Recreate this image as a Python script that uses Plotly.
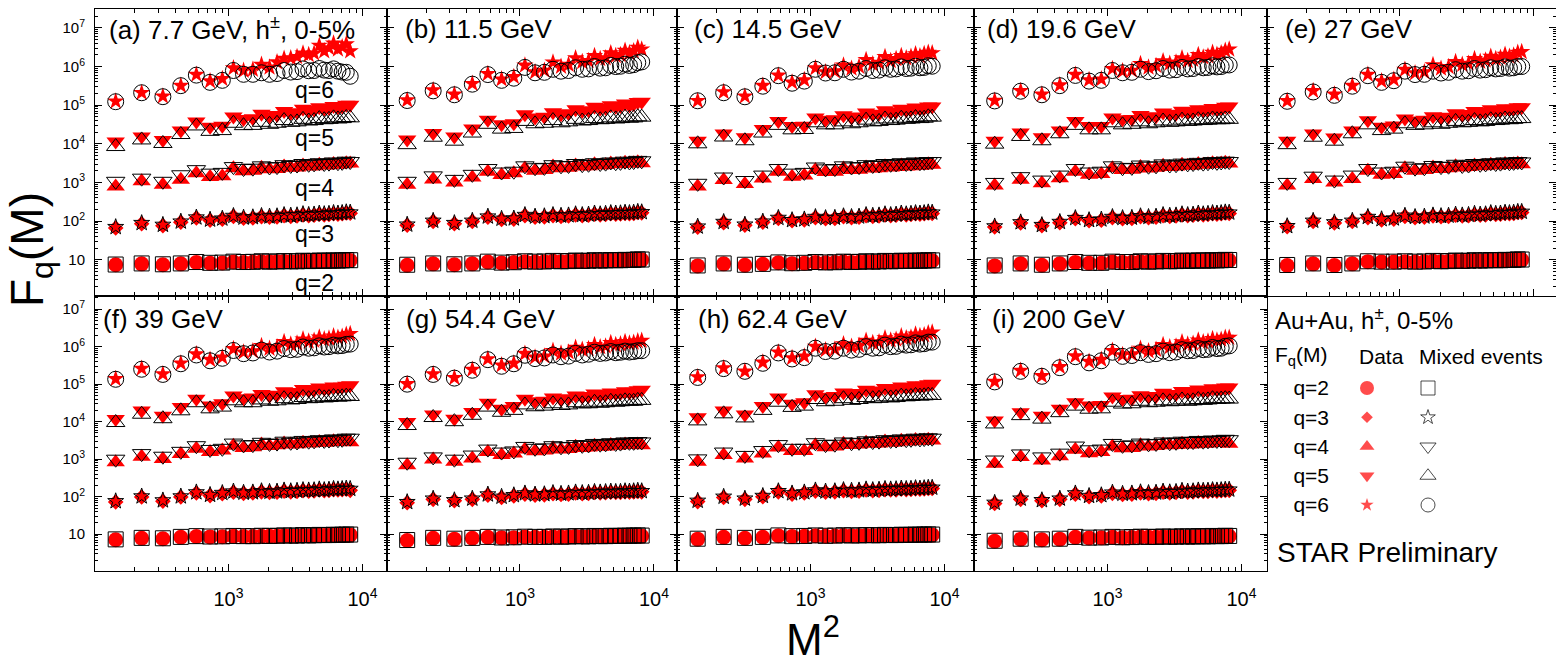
import plotly.graph_objects as go

W, H = 1556, 663
FONT = "Liberation Sans, Arial, Helvetica, sans-serif"

# ---------------- data ----------------
M2 = [144, 225, 324, 441, 576, 729, 900, 1089, 1296, 1521, 1764, 2025, 2304, 2601, 2916,
      3249, 3600, 3969, 4356, 4761, 5184, 5625, 6084, 6561, 7056, 7569, 8100]

# (a) 7.7 GeV
A_Q2_DATA = [7.4, 7.8, 7.4, 7.8, 8.5, 8.1, 8.2, 8.7, 8.5, 8.6, 8.9, 8.7, 8.8, 9.0, 8.9, 8.9, 9.2, 9.0, 9.1, 9.3, 9.2, 9.2, 9.4, 9.3, 9.4, 9.6, 9.5]
A_Q2_MIX = [7.5, 8.0, 7.6, 8.0, 8.7, 8.3, 8.4, 8.9, 8.7, 8.8, 9.1, 8.9, 9.0, 9.2, 9.1, 9.1, 9.4, 9.2, 9.3, 9.5, 9.4, 9.4, 9.6, 9.5, 9.6, 9.8, 9.7]
A_Q3_DATA = [66, 85, 76, 93, 120, 105, 112, 132, 118, 120, 130, 125, 128, 138, 132, 135, 145, 138, 141, 150, 145, 148, 155, 150, 155, 162, 160]
A_Q3_MIX = [70, 89, 80, 97, 124, 109, 116, 136, 123, 126, 136, 131, 134, 144, 139, 142, 152, 145, 149, 157, 152, 155, 163, 158, 163, 170, 167]
A_Q4_DATA = [790, 1070, 870, 1170, 1740, 1380, 1450, 2340, 1950, 2000, 2400, 2190, 2240, 2570, 2400, 2450, 2750, 2570, 2630, 2880, 2750, 2800, 3020, 2880, 2950, 3160, 3090]
A_Q4_MIX = [1070, 1290, 1070, 1580, 2140, 1740, 1820, 2570, 2290, 2340, 2690, 2510, 2570, 2880, 2750, 2820, 3090, 2950, 3020, 3240, 3090, 3160, 3390, 3240, 3310, 3550, 3470]
A_Q5_DATA = [1.15e4, 1.55e4, 1.26e4, 2.2e4, 3.8e4, 2.75e4, 2.95e4, 5.1e4, 4.4e4, 4.6e4, 6.0e4, 5.2e4, 5.6e4, 7.1e4, 6.3e4, 6.6e4, 8.1e4, 7.2e4, 7.6e4, 8.9e4, 8.1e4, 8.5e4, 9.5e4, 8.9e4, 9.3e4, 1.02e5, 1.02e5]
A_Q5_MIX = [8.5e3, 1.26e4, 1.02e4, 1.74e4, 2.9e4, 2.1e4, 2.2e4, 3.4e4, 2.95e4, 3.0e4, 3.6e4, 3.2e4, 3.4e4, 4.0e4, 3.6e4, 3.7e4, 4.3e4, 3.9e4, 4.0e4, 4.5e4, 4.2e4, 4.3e4, 4.7e4, 4.4e4, 4.5e4, 4.8e4, 4.7e4]
A_Q6_DATA = [1.26e5, 2.1e5, 1.7e5, 3.2e5, 6.2e5, 4.2e5, 4.8e5, 9.1e5, 7.8e5, 8.3e5, 1.12e6, 9.5e5, 1.3e6, 1.6e6, 1.66e6, 1.78e6, 2.2e6, 2.0e6, 2.2e6, 3.5e6, 2.5e6, 3.0e6, 4.0e6, 2.8e6, 3.2e6, 3.8e6, 2.5e6]
A_Q6_MIX = [1.23e5, 2.1e5, 1.66e5, 3.2e5, 6.0e5, 3.9e5, 4.4e5, 7.9e5, 6.3e5, 6.3e5, 6.9e5, 6.3e5, 6.6e5, 7.9e5, 7.2e5, 7.4e5, 8.7e5, 7.8e5, 7.9e5, 8.9e5, 8.1e5, 7.9e5, 8.7e5, 7.6e5, 7.2e5, 7.1e5, 5.6e5]

# (b) 11.5 GeV
B_Q2_DATA = [7.2, 7.8, 7.4, 7.8, 8.7, 8.2, 8.4, 8.9, 8.7, 8.8, 9.1, 8.9, 9.0, 9.3, 9.1, 9.2, 9.5, 9.3, 9.4, 9.6, 9.5, 9.5, 9.7, 9.6, 9.7, 10.0, 9.9]
B_Q2_MIX = [7.4, 8.0, 7.6, 8.0, 8.9, 8.4, 8.6, 9.1, 8.9, 9.0, 9.3, 9.1, 9.2, 9.5, 9.3, 9.4, 9.7, 9.5, 9.6, 9.8, 9.7, 9.7, 9.9, 9.8, 9.9, 10.2, 10.1]
B_Q3_DATA = [78, 98, 85, 98, 126, 110, 112, 138, 126, 128, 138, 132, 135, 145, 138, 141, 151, 145, 148, 155, 151, 152, 158, 155, 158, 166, 163]
B_Q3_MIX = [81, 102, 89, 102, 131, 115, 117, 144, 131, 134, 144, 138, 141, 151, 144, 148, 158, 151, 155, 162, 158, 160, 166, 162, 166, 174, 170]
B_Q4_DATA = [870, 1200, 1000, 1350, 1900, 1550, 1740, 2290, 2000, 2100, 2570, 2340, 2400, 2750, 2570, 2630, 2950, 2750, 2820, 3090, 2950, 3020, 3240, 3090, 3160, 3310, 3160]
B_Q4_MIX = [1070, 1480, 1200, 1620, 2290, 1860, 1950, 2690, 2400, 2450, 2880, 2690, 2750, 3090, 2880, 2950, 3240, 3090, 3160, 3390, 3240, 3310, 3550, 3390, 3470, 3720, 3630]
B_Q5_DATA = [1.29e4, 1.9e4, 1.55e4, 2.5e4, 4.2e4, 3.2e4, 3.4e4, 5.8e4, 4.8e4, 5.0e4, 6.6e4, 5.8e4, 6.2e4, 7.9e4, 7.1e4, 7.4e4, 9.1e4, 8.1e4, 8.5e4, 1.0e5, 9.1e4, 9.5e4, 1.1e5, 1.0e5, 1.07e5, 1.2e5, 1.23e5]
B_Q5_MIX = [9.5e3, 1.48e4, 1.17e4, 1.9e4, 3.2e4, 2.4e4, 2.5e4, 3.8e4, 3.3e4, 3.4e4, 4.0e4, 3.5e4, 3.7e4, 4.3e4, 3.9e4, 4.0e4, 4.5e4, 4.2e4, 4.3e4, 4.7e4, 4.4e4, 4.5e4, 4.9e4, 4.6e4, 4.7e4, 5.0e4, 4.9e4]
B_Q6_DATA = [1.35e5, 2.45e5, 1.9e5, 3.6e5, 6.5e5, 4.7e5, 5.4e5, 1.07e6, 7.2e5, 7.9e5, 1.29e6, 1.0e6, 1.12e6, 1.66e6, 1.32e6, 1.41e6, 1.9e6, 1.58e6, 1.66e6, 2.24e6, 1.9e6, 2.0e6, 2.6e6, 2.24e6, 2.5e6, 3.1e6, 2.8e6]
B_Q6_MIX = [1.32e5, 2.35e5, 1.86e5, 3.5e5, 6.2e5, 4.4e5, 5.0e5, 9.5e5, 6.9e5, 7.1e5, 8.5e5, 7.6e5, 7.9e5, 9.3e5, 8.5e5, 8.7e5, 1.0e6, 9.1e5, 9.3e5, 1.07e6, 1.0e6, 1.02e6, 1.15e6, 1.07e6, 1.12e6, 1.26e6, 1.32e6]

# (c) 14.5 GeV
C_Q2_DATA = [6.9, 7.8, 7.2, 7.6, 8.3, 7.9, 8.1, 8.5, 8.3, 8.4, 8.7, 8.5, 8.6, 8.9, 8.7, 8.8, 9.1, 8.9, 9.0, 9.2, 9.1, 9.1, 9.3, 9.2, 9.3, 9.5, 9.4]
C_Q2_MIX = [7.1, 8.0, 7.4, 7.8, 8.5, 8.1, 8.3, 8.7, 8.5, 8.6, 8.9, 8.7, 8.8, 9.1, 8.9, 9.0, 9.3, 9.1, 9.2, 9.4, 9.3, 9.3, 9.5, 9.4, 9.5, 9.7, 9.6]
C_Q3_DATA = [69, 91, 78, 93, 117, 102, 107, 123, 115, 117, 129, 123, 126, 138, 132, 135, 145, 138, 141, 151, 145, 148, 155, 151, 155, 162, 158]
C_Q3_MIX = [72, 95, 81, 97, 121, 106, 111, 128, 120, 122, 134, 128, 131, 144, 138, 141, 151, 144, 148, 158, 151, 155, 162, 158, 162, 169, 166]
C_Q4_DATA = [790, 1150, 910, 1260, 1900, 1410, 1510, 2090, 1860, 1900, 2290, 2090, 2140, 2450, 2290, 2340, 2630, 2450, 2510, 2750, 2570, 2630, 2880, 2690, 2750, 2950, 2880]
C_Q4_MIX = [950, 1380, 1120, 1550, 2290, 1740, 1820, 2510, 2240, 2290, 2690, 2510, 2570, 2880, 2750, 2820, 3090, 2950, 3020, 3240, 3090, 3160, 3390, 3240, 3310, 3470, 3470]
C_Q5_DATA = [1.2e4, 1.86e4, 1.48e4, 2.4e4, 3.9e4, 2.9e4, 2.95e4, 4.8e4, 4.2e4, 4.3e4, 5.5e4, 4.8e4, 5.1e4, 6.5e4, 5.8e4, 6.0e4, 7.4e4, 6.6e4, 6.9e4, 8.1e4, 7.4e4, 7.8e4, 8.7e4, 8.1e4, 8.5e4, 9.3e4, 9.3e4]
C_Q5_MIX = [1.0e4, 1.5e4, 1.2e4, 1.9e4, 3.0e4, 2.3e4, 2.35e4, 3.5e4, 3.1e4, 3.1e4, 3.7e4, 3.3e4, 3.5e4, 4.1e4, 3.7e4, 3.8e4, 4.4e4, 4.0e4, 4.1e4, 4.6e4, 4.3e4, 4.4e4, 4.8e4, 4.5e4, 4.6e4, 5.0e4, 4.9e4]
C_Q6_DATA = [1.3e5, 2.2e5, 1.7e5, 3.2e5, 5.9e5, 3.9e5, 4.5e5, 9.1e5, 7.2e5, 7.6e5, 1.07e6, 8.9e5, 1.0e6, 1.5e6, 1.15e6, 1.26e6, 1.78e6, 1.41e6, 1.58e6, 1.9e6, 1.66e6, 1.82e6, 2.1e6, 1.86e6, 2.14e6, 2.3e6, 2.24e6]
C_Q6_MIX = [1.3e5, 2.1e5, 1.65e5, 3.1e5, 5.8e5, 3.7e5, 4.2e5, 8.5e5, 6.8e5, 6.9e5, 8.5e5, 7.2e5, 7.6e5, 8.9e5, 7.9e5, 8.1e5, 9.3e5, 8.5e5, 8.7e5, 9.8e5, 8.9e5, 9.1e5, 1.02e6, 9.3e5, 9.5e5, 1.05e6, 1.02e6]

# (d) 19.6 GeV
D_Q2_DATA = [6.9, 7.8, 7.2, 7.8, 8.5, 8.1, 8.1, 8.7, 8.5, 8.5, 8.9, 8.7, 8.8, 9.1, 8.9, 9.0, 9.3, 9.1, 9.2, 9.4, 9.3, 9.3, 9.5, 9.4, 9.5, 9.7, 9.6]
D_Q2_MIX = [7.1, 8.0, 7.4, 8.0, 8.7, 8.3, 8.3, 8.9, 8.7, 8.7, 9.1, 8.9, 9.0, 9.3, 9.1, 9.2, 9.5, 9.3, 9.4, 9.6, 9.5, 9.5, 9.7, 9.6, 9.7, 9.9, 9.8]
D_Q3_DATA = [70, 89, 76, 91, 115, 102, 105, 123, 115, 117, 129, 123, 126, 138, 132, 135, 145, 138, 141, 151, 145, 148, 155, 151, 155, 162, 158]
D_Q3_MIX = [73, 93, 79, 95, 120, 106, 110, 128, 120, 122, 134, 128, 131, 144, 138, 141, 151, 144, 148, 158, 151, 155, 162, 158, 162, 169, 166]
D_Q4_DATA = [830, 1170, 950, 1290, 1900, 1580, 1660, 2340, 2090, 2140, 2510, 2290, 2400, 2690, 2510, 2570, 2880, 2690, 2750, 3020, 2880, 2950, 3160, 3020, 3090, 3240, 3090]
D_Q4_MIX = [1000, 1410, 1150, 1550, 2290, 1860, 1950, 2690, 2400, 2450, 2820, 2630, 2690, 3020, 2820, 2880, 3160, 3020, 3090, 3310, 3160, 3240, 3470, 3310, 3390, 3550, 3470]
D_Q5_DATA = [1.2e4, 1.95e4, 1.48e4, 2.2e4, 3.9e4, 2.9e4, 2.9e4, 4.8e4, 4.3e4, 4.4e4, 5.6e4, 4.9e4, 5.2e4, 6.5e4, 5.9e4, 6.0e4, 7.2e4, 6.6e4, 6.9e4, 7.9e4, 7.4e4, 7.6e4, 8.5e4, 7.9e4, 8.3e4, 9.1e4, 9.3e4]
D_Q5_MIX = [9.8e3, 1.55e4, 1.2e4, 1.82e4, 3.0e4, 2.3e4, 2.3e4, 3.5e4, 3.1e4, 3.2e4, 3.7e4, 3.3e4, 3.5e4, 3.9e4, 3.6e4, 3.7e4, 4.1e4, 3.8e4, 3.9e4, 4.2e4, 4.0e4, 4.1e4, 4.4e4, 4.2e4, 4.2e4, 4.4e4, 4.3e4]
D_Q6_DATA = [1.32e5, 2.35e5, 1.9e5, 3.3e5, 6.2e5, 4.5e5, 4.7e5, 8.7e5, 7.6e5, 7.9e5, 1.17e6, 9.5e5, 1.05e6, 1.38e6, 1.2e6, 1.29e6, 1.66e6, 1.41e6, 1.51e6, 2.0e6, 1.74e6, 1.86e6, 2.3e6, 2.04e6, 2.24e6, 2.6e6, 2.8e6]
D_Q6_MIX = [1.29e5, 2.3e5, 1.86e5, 3.2e5, 5.9e5, 4.2e5, 4.4e5, 7.9e5, 6.9e5, 7.1e5, 8.5e5, 7.4e5, 7.8e5, 8.9e5, 8.1e5, 8.3e5, 9.5e5, 8.7e5, 8.9e5, 1.0e6, 9.3e5, 9.5e5, 1.05e6, 9.8e5, 1.0e6, 1.1e6, 1.1e6]

# (e) 27 GeV
E_Q2_DATA = [7.1, 7.8, 7.1, 7.8, 8.9, 8.7, 8.7, 8.9, 8.7, 8.8, 9.1, 8.9, 9.0, 9.3, 9.1, 9.2, 9.5, 9.3, 9.4, 9.6, 9.5, 9.5, 9.7, 9.6, 9.7, 10.0, 9.9]
E_Q2_MIX = [7.3, 8.0, 7.3, 8.0, 9.1, 8.9, 8.9, 9.1, 8.9, 9.0, 9.3, 9.1, 9.2, 9.5, 9.3, 9.4, 9.7, 9.5, 9.6, 9.8, 9.7, 9.7, 9.9, 9.8, 9.9, 10.2, 10.1]
E_Q3_DATA = [71, 98, 89, 98, 123, 107, 112, 132, 123, 126, 135, 129, 132, 141, 135, 138, 148, 141, 145, 155, 148, 151, 158, 155, 158, 166, 166]
E_Q3_MIX = [74, 102, 93, 102, 128, 112, 117, 138, 128, 131, 141, 135, 138, 148, 141, 145, 155, 148, 151, 162, 155, 158, 166, 162, 166, 174, 174]
E_Q4_DATA = [830, 1230, 1000, 1230, 2000, 1580, 1660, 2340, 2000, 2090, 2450, 2240, 2340, 2630, 2450, 2510, 2750, 2630, 2690, 2880, 2750, 2820, 3020, 2880, 2950, 3090, 2950]
E_Q4_MIX = [1000, 1450, 1150, 1550, 2290, 1860, 1950, 2630, 2340, 2400, 2750, 2570, 2630, 2950, 2750, 2820, 3090, 2950, 3020, 3240, 3090, 3160, 3390, 3240, 3310, 3470, 3390]
E_Q5_DATA = [1.2e4, 1.86e4, 1.45e4, 2.2e4, 4.1e4, 2.75e4, 3.0e4, 4.5e4, 4.0e4, 4.2e4, 5.2e4, 4.7e4, 5.0e4, 6.2e4, 5.6e4, 5.9e4, 7.1e4, 6.5e4, 6.8e4, 7.8e4, 7.2e4, 7.4e4, 8.3e4, 7.8e4, 8.1e4, 8.9e4, 8.9e4]
E_Q5_MIX = [9.5e3, 1.48e4, 1.17e4, 1.82e4, 3.1e4, 2.2e4, 2.4e4, 3.3e4, 3.0e4, 3.1e4, 3.5e4, 3.2e4, 3.4e4, 3.8e4, 3.5e4, 3.6e4, 4.0e4, 3.7e4, 3.8e4, 4.2e4, 4.0e4, 4.1e4, 4.4e4, 4.2e4, 4.3e4, 4.5e4, 4.5e4]
E_Q6_DATA = [1.29e5, 2.35e5, 1.9e5, 3.2e5, 6.2e5, 4.2e5, 4.6e5, 8.3e5, 6.8e5, 7.2e5, 1.1e6, 8.9e5, 9.8e5, 1.32e6, 1.12e6, 1.2e6, 1.58e6, 1.35e6, 1.45e6, 1.82e6, 1.58e6, 1.7e6, 2.04e6, 1.82e6, 1.95e6, 2.3e6, 2.4e6]
E_Q6_MIX = [1.26e5, 2.2e5, 1.8e5, 3.1e5, 5.8e5, 3.9e5, 4.3e5, 7.6e5, 6.2e5, 6.3e5, 7.6e5, 6.8e5, 7.1e5, 8.3e5, 7.6e5, 7.8e5, 8.9e5, 8.1e5, 8.3e5, 9.3e5, 8.7e5, 8.9e5, 9.8e5, 9.1e5, 9.3e5, 1.0e6, 1.0e6]

# (f) 39 GeV
F_Q2_DATA = [7.1, 7.8, 7.6, 8.3, 8.7, 8.5, 8.6, 8.8, 8.7, 8.7, 8.9, 8.8, 8.9, 9.1, 9.0, 9.0, 9.3, 9.1, 9.2, 9.4, 9.3, 9.3, 9.5, 9.4, 9.5, 9.6, 9.6]
F_Q2_MIX = [7.3, 8.0, 7.8, 8.5, 8.9, 8.7, 8.8, 9.0, 8.9, 8.9, 9.1, 9.0, 9.1, 9.3, 9.2, 9.2, 9.5, 9.3, 9.4, 9.6, 9.5, 9.5, 9.7, 9.6, 9.7, 9.8, 9.8]
F_Q3_DATA = [72, 98, 76, 98, 126, 107, 120, 132, 123, 126, 135, 129, 132, 141, 135, 138, 145, 141, 143, 151, 145, 148, 155, 151, 155, 158, 148]
F_Q3_MIX = [76, 102, 80, 102, 131, 112, 126, 138, 128, 131, 141, 135, 138, 148, 141, 145, 151, 148, 150, 158, 151, 155, 162, 158, 162, 166, 162]
F_Q4_DATA = [830, 1170, 1020, 1380, 1900, 1550, 1700, 2290, 2000, 2090, 2450, 2240, 2340, 2630, 2450, 2510, 2750, 2630, 2690, 2880, 2750, 2820, 3020, 2880, 2950, 3020, 2820]
F_Q4_MIX = [1000, 1410, 1200, 1620, 2290, 1820, 1950, 2690, 2400, 2450, 2820, 2630, 2690, 3020, 2820, 2880, 3160, 3020, 3090, 3310, 3160, 3240, 3470, 3310, 3390, 3630, 3630]
F_Q5_DATA = [1.17e4, 2.0e4, 1.45e4, 2.45e4, 4.1e4, 2.7e4, 3.1e4, 5.0e4, 4.2e4, 4.4e4, 5.5e4, 4.9e4, 5.2e4, 6.5e4, 5.9e4, 6.2e4, 7.4e4, 6.8e4, 7.1e4, 8.1e4, 7.6e4, 7.8e4, 8.7e4, 8.1e4, 8.5e4, 9.1e4, 9.3e4]
F_Q5_MIX = [9.5e3, 1.58e4, 1.2e4, 1.95e4, 3.2e4, 2.2e4, 2.45e4, 3.6e4, 3.2e4, 3.2e4, 3.8e4, 3.5e4, 3.6e4, 4.1e4, 3.8e4, 3.9e4, 4.4e4, 4.1e4, 4.2e4, 4.6e4, 4.3e4, 4.4e4, 4.7e4, 4.5e4, 4.6e4, 4.8e4, 4.7e4]
F_Q6_DATA = [1.38e5, 2.6e5, 1.86e5, 3.6e5, 6.3e5, 4.5e5, 5.2e5, 8.7e5, 7.1e5, 7.6e5, 1.05e6, 8.9e5, 9.8e5, 1.35e6, 1.15e6, 1.23e6, 1.58e6, 1.38e6, 1.45e6, 1.78e6, 1.58e6, 1.66e6, 1.9e6, 1.74e6, 1.86e6, 2.1e6, 2.2e6]
F_Q6_MIX = [1.35e5, 2.5e5, 1.82e5, 3.5e5, 6.0e5, 4.2e5, 4.9e5, 7.9e5, 6.5e5, 6.8e5, 8.1e5, 7.2e5, 7.6e5, 8.9e5, 8.3e5, 8.5e5, 9.8e5, 9.1e5, 9.3e5, 1.05e6, 9.8e5, 1.0e6, 1.1e6, 1.05e6, 1.07e6, 1.15e6, 1.17e6]

# (g) 54.4 GeV
G_Q2_DATA = [6.8, 7.8, 7.4, 7.8, 8.3, 8.0, 8.1, 8.4, 8.3, 8.3, 8.5, 8.4, 8.5, 8.7, 8.6, 8.6, 8.8, 8.7, 8.7, 8.9, 8.8, 8.8, 9.0, 8.9, 9.0, 9.1, 9.0]
G_Q2_MIX = [7.0, 8.0, 7.6, 8.0, 8.5, 8.2, 8.3, 8.6, 8.5, 8.5, 8.7, 8.6, 8.7, 8.9, 8.8, 8.8, 9.0, 8.9, 8.9, 9.1, 9.0, 9.0, 9.2, 9.1, 9.2, 9.3, 9.2]
G_Q3_DATA = [69, 85, 78, 85, 110, 95, 105, 117, 110, 112, 120, 115, 117, 126, 120, 123, 129, 126, 128, 132, 129, 130, 135, 132, 135, 138, 135]
G_Q3_MIX = [72, 89, 81, 89, 115, 100, 110, 123, 115, 117, 126, 120, 123, 131, 126, 128, 135, 131, 134, 138, 135, 136, 141, 138, 141, 145, 141]
G_Q4_DATA = [690, 980, 850, 1050, 1550, 1290, 1410, 1820, 1620, 1700, 1950, 1820, 1860, 2140, 2000, 2040, 2290, 2140, 2190, 2400, 2290, 2340, 2450, 2400, 2400, 2450, 2340]
G_Q4_MIX = [830, 1150, 1000, 1290, 1860, 1550, 1660, 2190, 1950, 2000, 2290, 2140, 2190, 2450, 2340, 2400, 2630, 2510, 2570, 2750, 2630, 2690, 2880, 2820, 2820, 2950, 2880]
G_Q5_DATA = [9.8e3, 1.55e4, 1.2e4, 1.82e4, 3.2e4, 2.2e4, 2.6e4, 4.1e4, 3.5e4, 3.6e4, 4.4e4, 3.9e4, 4.2e4, 5.0e4, 4.6e4, 4.8e4, 5.6e4, 5.1e4, 5.4e4, 6.0e4, 5.6e4, 5.8e4, 6.5e4, 6.0e4, 6.3e4, 6.9e4, 7.1e4]
G_Q5_MIX = [7.9e3, 1.29e4, 1.0e4, 1.48e4, 2.45e4, 1.78e4, 2.0e4, 2.8e4, 2.5e4, 2.6e4, 3.0e4, 2.7e4, 2.8e4, 3.2e4, 3.0e4, 3.0e4, 3.3e4, 3.1e4, 3.2e4, 3.5e4, 3.3e4, 3.4e4, 3.6e4, 3.5e4, 3.5e4, 3.7e4, 3.7e4]
G_Q6_DATA = [1.02e5, 1.86e5, 1.48e5, 2.45e5, 4.7e5, 3.2e5, 3.6e5, 6.5e5, 5.2e5, 5.5e5, 7.8e5, 6.6e5, 7.1e5, 9.5e5, 8.3e5, 8.7e5, 1.12e6, 9.8e5, 1.02e6, 1.26e6, 1.12e6, 1.17e6, 1.35e6, 1.23e6, 1.29e6, 1.41e6, 1.45e6]
G_Q6_MIX = [1.0e5, 1.82e5, 1.45e5, 2.35e5, 4.5e5, 3.0e5, 3.5e5, 5.9e5, 4.8e5, 5.0e5, 6.0e5, 5.4e5, 5.6e5, 6.6e5, 6.0e5, 6.3e5, 7.1e5, 6.6e5, 6.8e5, 7.4e5, 6.9e5, 7.1e5, 7.6e5, 7.2e5, 7.4e5, 7.8e5, 7.8e5]

# (h) 62.4 GeV
H_Q2_DATA = [7.4, 8.3, 7.8, 8.3, 9.1, 8.7, 8.8, 9.1, 8.9, 9.0, 9.2, 9.1, 9.1, 9.3, 9.2, 9.2, 9.4, 9.3, 9.3, 9.5, 9.4, 9.4, 9.6, 9.5, 9.6, 9.7, 9.6]
H_Q2_MIX = [7.6, 8.5, 8.0, 8.5, 9.3, 8.9, 9.0, 9.3, 9.1, 9.2, 9.4, 9.3, 9.3, 9.5, 9.4, 9.4, 9.6, 9.5, 9.5, 9.7, 9.6, 9.6, 9.8, 9.7, 9.8, 9.9, 9.8]
H_Q3_DATA = [74, 95, 85, 100, 135, 117, 126, 141, 132, 135, 145, 138, 141, 151, 145, 148, 155, 151, 152, 158, 155, 156, 162, 158, 162, 166, 166]
H_Q3_MIX = [78, 100, 89, 105, 141, 123, 131, 148, 138, 141, 151, 145, 148, 158, 151, 155, 162, 158, 160, 166, 162, 164, 170, 166, 170, 174, 174]
H_Q4_DATA = [850, 1290, 1050, 1410, 2040, 1660, 1660, 2340, 2090, 2190, 2570, 2400, 2450, 2750, 2570, 2630, 2950, 2750, 2820, 3090, 2950, 3020, 3240, 3090, 3160, 3310, 3160]
H_Q4_MIX = [1020, 1550, 1260, 1700, 2450, 1950, 1950, 2750, 2450, 2510, 2880, 2750, 2820, 3090, 2950, 3020, 3310, 3160, 3240, 3470, 3310, 3390, 3630, 3470, 3550, 3720, 3630]
H_Q5_DATA = [1.32e4, 2.0e4, 1.55e4, 2.6e4, 4.4e4, 3.0e4, 3.3e4, 5.4e4, 4.6e4, 4.8e4, 6.0e4, 5.4e4, 5.8e4, 7.1e4, 6.5e4, 6.8e4, 7.9e4, 7.2e4, 7.6e4, 8.7e4, 8.1e4, 8.3e4, 9.3e4, 8.7e4, 9.1e4, 1.0e5, 1.02e5]
H_Q5_MIX = [1.05e4, 1.62e4, 1.26e4, 2.0e4, 3.3e4, 2.4e4, 2.6e4, 3.9e4, 3.4e4, 3.5e4, 4.1e4, 3.7e4, 3.9e4, 4.4e4, 4.1e4, 4.2e4, 4.6e4, 4.3e4, 4.4e4, 4.8e4, 4.6e4, 4.7e4, 5.0e4, 4.8e4, 4.9e4, 5.1e4, 5.0e4]
H_Q6_DATA = [1.55e5, 2.7e5, 2.2e5, 3.8e5, 7.1e5, 5.0e5, 5.5e5, 1.0e6, 8.1e5, 8.5e5, 1.17e6, 1.0e6, 1.07e6, 1.45e6, 1.26e6, 1.32e6, 1.7e6, 1.48e6, 1.55e6, 1.9e6, 1.7e6, 1.78e6, 2.14e6, 1.95e6, 2.04e6, 2.3e6, 2.4e6]
H_Q6_MIX = [1.51e5, 2.6e5, 2.2e5, 3.6e5, 6.8e5, 4.7e5, 5.1e5, 9.1e5, 7.4e5, 7.6e5, 9.1e5, 8.1e5, 8.5e5, 1.0e6, 9.1e5, 9.3e5, 1.1e6, 1.0e6, 1.02e6, 1.17e6, 1.1e6, 1.12e6, 1.26e6, 1.17e6, 1.2e6, 1.32e6, 1.32e6]

# (i) 200 GeV
I_Q2_DATA = [6.5, 7.4, 7.1, 7.4, 8.3, 7.9, 8.0, 8.3, 8.1, 8.2, 8.4, 8.3, 8.3, 8.5, 8.4, 8.4, 8.6, 8.5, 8.5, 8.7, 8.6, 8.6, 8.8, 8.7, 8.7, 8.9, 8.8]
I_Q2_MIX = [6.7, 7.6, 7.3, 7.6, 8.5, 8.1, 8.2, 8.5, 8.3, 8.4, 8.6, 8.5, 8.5, 8.7, 8.6, 8.6, 8.8, 8.7, 8.7, 8.9, 8.8, 8.8, 9.0, 8.9, 8.9, 9.1, 9.0]
I_Q3_DATA = [66, 85, 78, 85, 117, 100, 105, 123, 115, 117, 126, 120, 123, 132, 126, 129, 138, 132, 135, 141, 138, 139, 145, 141, 145, 148, 148]
I_Q3_MIX = [69, 89, 81, 89, 123, 105, 110, 129, 120, 123, 132, 126, 129, 138, 132, 135, 145, 138, 141, 148, 145, 146, 151, 148, 151, 155, 155]
I_Q4_DATA = [760, 1150, 930, 1200, 1780, 1450, 1550, 2190, 1950, 2000, 2340, 2190, 2240, 2450, 2340, 2400, 2570, 2450, 2510, 2690, 2570, 2630, 2750, 2690, 2690, 2750, 2570]
I_Q4_MIX = [950, 1380, 1150, 1450, 2240, 1780, 1860, 2630, 2340, 2400, 2690, 2570, 2630, 2880, 2750, 2820, 3020, 2950, 2950, 3160, 3020, 3090, 3240, 3160, 3240, 3390, 3310]
I_Q5_DATA = [1.07e4, 1.78e4, 1.45e4, 2.2e4, 3.3e4, 2.7e4, 2.8e4, 4.7e4, 4.0e4, 4.1e4, 5.1e4, 4.6e4, 4.8e4, 5.9e4, 5.4e4, 5.5e4, 6.6e4, 6.0e4, 6.3e4, 7.2e4, 6.8e4, 6.9e4, 7.8e4, 7.2e4, 7.6e4, 8.1e4, 8.1e4]
I_Q5_MIX = [8.7e3, 1.45e4, 1.17e4, 1.74e4, 2.6e4, 2.15e4, 2.2e4, 3.3e4, 2.95e4, 3.0e4, 3.5e4, 3.2e4, 3.3e4, 3.6e4, 3.4e4, 3.5e4, 3.8e4, 3.5e4, 3.6e4, 3.9e4, 3.7e4, 3.8e4, 4.1e4, 3.9e4, 4.0e4, 4.1e4, 4.0e4]
I_Q6_DATA = [1.17e5, 2.3e5, 1.66e5, 2.9e5, 5.6e5, 4.0e5, 4.5e5, 7.8e5, 6.0e5, 6.3e5, 8.9e5, 7.6e5, 8.3e5, 1.12e6, 9.8e5, 1.02e6, 1.32e6, 1.15e6, 1.2e6, 1.48e6, 1.32e6, 1.38e6, 1.62e6, 1.48e6, 1.55e6, 1.74e6, 1.74e6]
I_Q6_MIX = [1.15e5, 2.2e5, 1.62e5, 2.75e5, 5.4e5, 3.7e5, 4.2e5, 7.1e5, 5.5e5, 5.8e5, 6.9e5, 6.2e5, 6.5e5, 7.6e5, 6.9e5, 7.2e5, 8.3e5, 7.8e5, 7.9e5, 8.9e5, 8.3e5, 8.5e5, 9.5e5, 8.9e5, 9.1e5, 1.02e6, 1.05e6]

PANEL_KEYS = ["a", "b", "c", "d", "e", "f", "g", "h", "i"]
PANEL_LABELS = ["(a) 7.7 GeV, h<sup>±</sup>, 0-5%", "(b) 11.5 GeV", "(c) 14.5 GeV",
                "(d) 19.6 GeV", "(e) 27 GeV", "(f) 39 GeV", "(g) 54.4 GeV",
                "(h) 62.4 GeV", "(i) 200 GeV"]
Q_ORDERS = [2, 3, 4, 5, 6]
Q_LABELS = ["q=2", "q=3", "q=4", "q=5", "q=6"]
Y_TICKS = [10, 100, 1000, 10000, 100000, 1000000, 10000000]
Y_TICKTEXT = ["10", "10<sup>2</sup>", "10<sup>3</sup>", "10<sup>4</sup>",
              "10<sup>5</sup>", "10<sup>6</sup>", "10<sup>7</sup>"]
X_TICKS = [1000, 10000]
X_TICKTEXT = ["10<sup>3</sup>", "10<sup>4</sup>"]

SERIES = {}
for key in PANEL_KEYS:
    SERIES[key] = {}
    for q in Q_ORDERS:
        d = globals()[f"{key.upper()}_Q{q}_DATA"]
        m = globals()[f"{key.upper()}_Q{q}_MIX"]
        assert len(d) == len(M2) and len(m) == len(M2), (key, q, len(d), len(m))
        SERIES[key][q] = (d, m)

# ---------------- styles ----------------
DATA_SYMBOL = {2: "circle", 3: "diamond", 4: "triangle-up", 5: "triangle-down", 6: "star"}
DATA_SIZE = {2: 15, 3: 12, 4: 16, 5: 16, 6: 13}
MIX_SYMBOL = {2: "square-open", 3: "star-open", 4: "triangle-down-open", 5: "triangle-up-open", 6: "circle-open"}
MIX_SIZE = {2: 15, 3: 12, 4: 16, 5: 16, 6: 16}
RED = "#ff0000"

# layout geometry (pixels)
COL_EDGES = [95, 386.5, 677, 974, 1266.5, 1556]
ROW_EDGES = [(9, 296), (296, 571)]
Y_RANGES = [[0.06, 7.49], [0.02, 7.35]]
PX_PER_DECADE = 134.0
X_LOG_START = 2.004
LABEL_POS = {"a": (107, 29), "b": (403, 29), "c": (692, 29), "d": (985, 29), "e": (1283, 29),
             "f": (101, 319), "g": (404, 319), "h": (696, 319), "i": (990, 319)}
GRID = {"a": (0, 0), "b": (0, 1), "c": (0, 2), "d": (0, 3), "e": (0, 4),
        "f": (1, 0), "g": (1, 1), "h": (1, 2), "i": (1, 3)}

X_MINOR = [d * 10 ** k for k in (2, 3) for d in range(2, 10)]
Y_MINOR = [d * 10 ** k for k in range(0, 8) for d in range(2, 10)]


def px_x(p):
    return p / W


def px_y(p):
    return 1 - p / H


fig = go.Figure()
layout = {}
annotations = []

for idx, key in enumerate(PANEL_KEYS, start=1):
    r, c = GRID[key]
    left, right = COL_EDGES[c], COL_EDGES[c + 1]
    top, bottom = ROW_EDGES[r]
    xname = "xaxis" if idx == 1 else f"xaxis{idx}"
    yname = "yaxis" if idx == 1 else f"yaxis{idx}"
    xref = "x" if idx == 1 else f"x{idx}"
    yref = "y" if idx == 1 else f"y{idx}"
    common = dict(showline=True, linecolor="black", linewidth=1, mirror="allticks",
                  ticks="inside", ticklen=7, tickwidth=1, tickcolor="black",
                  showgrid=False, zeroline=False, type="log")
    layout[xname] = dict(common, domain=[px_x(left), px_x(right)], anchor=yref,
                         range=[X_LOG_START, X_LOG_START + (right - left) / PX_PER_DECADE],
                         tickmode="array", tickvals=X_TICKS, ticktext=X_TICKTEXT,
                         showticklabels=(r == 1), ticklabelstandoff=10,
                         tickfont=dict(size=20, family=FONT, color="black"),
                         minor=dict(ticks="inside", ticklen=4, tickwidth=1, tickcolor="black",
                                    tickmode="array", tickvals=X_MINOR, showgrid=False))
    layout[yname] = dict(common, domain=[px_y(bottom), px_y(top)], anchor=xref,
                         range=Y_RANGES[r],
                         tickmode="array", tickvals=Y_TICKS, ticktext=Y_TICKTEXT,
                         showticklabels=(c == 0), ticklabelstandoff=6,
                         tickfont=dict(size=15, family=FONT, color="black"),
                         minor=dict(ticks="inside", ticklen=3, tickwidth=1, tickcolor="black",
                                    tickmode="array", tickvals=Y_MINOR, showgrid=False))
    for q in Q_ORDERS:
        d, m = SERIES[key][q]
        fig.add_trace(go.Scatter(x=M2, y=d, mode="markers", xaxis=xref, yaxis=yref,
                                 marker=dict(symbol=DATA_SYMBOL[q], size=DATA_SIZE[q], color=RED,
                                             line=dict(width=0)),
                                 name=f"Data q={q}", showlegend=False))
    for q in Q_ORDERS:
        d, m = SERIES[key][q]
        fig.add_trace(go.Scatter(x=M2, y=m, mode="markers", xaxis=xref, yaxis=yref,
                                 marker=dict(symbol=MIX_SYMBOL[q], size=MIX_SIZE[q], color="black",
                                             line=dict(width=1, color="black")),
                                 name=f"Mixed q={q}", showlegend=False))
    lx, ly = LABEL_POS[key]
    annotations.append(dict(text=PANEL_LABELS[idx - 1], xref="paper", yref="paper",
                            x=px_x(lx), y=px_y(ly), xanchor="left", yanchor="middle",
                            showarrow=False, font=dict(size=26, family=FONT, color="black")))

# q labels inside panel (a)
Q_LABEL_Y = {2: 283, 3: 234, 4: 188, 5: 138, 6: 90}
for q, lab in zip(Q_ORDERS, Q_LABELS):
    annotations.append(dict(text=lab, xref="paper", yref="paper", x=px_x(314), y=px_y(Q_LABEL_Y[q]),
                            xanchor="center", yanchor="middle", showarrow=False,
                            font=dict(size=23, family=FONT, color="black")))

# axis titles
annotations.append(dict(text="F<sub>q</sub>(M)", xref="paper", yref="paper", x=px_x(30), y=px_y(250),
                        xanchor="center", yanchor="middle", textangle=-90, showarrow=False,
                        font=dict(size=46, family=FONT, color="black")))
annotations.append(dict(text="M<sup>2</sup>", xref="paper", yref="paper", x=px_x(813), y=px_y(636),
                        xanchor="center", yanchor="middle", showarrow=False,
                        font=dict(size=44, family=FONT, color="black")))

# legend block (own small axis pair)
LEG_X = {"data": 0, "mixed": 1}
layout["xaxis10"] = dict(domain=[px_x(1340), px_x(1460)], range=[-27 / 61, 1 + 32 / 61],
                         anchor="y10", visible=False)
layout["yaxis10"] = dict(domain=[px_y(525), px_y(370)], range=[6 + 20 / 29.25, 2 - 18 / 29.25],
                         anchor="x10", showline=False, showgrid=False, zeroline=False, ticks="",
                         tickmode="array", tickvals=Q_ORDERS, ticktext=Q_LABELS,
                         ticklabelstandoff=10,
                         tickfont=dict(size=21, family=FONT, color="black"))
fig.add_trace(go.Scatter(x=[LEG_X["data"]] * 5, y=Q_ORDERS, mode="markers", xaxis="x10", yaxis="y10",
                         marker=dict(symbol=[DATA_SYMBOL[q] for q in Q_ORDERS],
                                     size=[14, 9, 13, 13, 10], color=RED, line=dict(width=0)),
                         showlegend=False))
fig.add_trace(go.Scatter(x=[LEG_X["mixed"]] * 5, y=Q_ORDERS, mode="markers", xaxis="x10", yaxis="y10",
                         marker=dict(symbol=[MIX_SYMBOL[q] for q in Q_ORDERS],
                                     size=[14, 11, 14, 14, 14], color="black",
                                     line=dict(width=1, color="black")),
                         showlegend=False))
for text, x, y, size in [("Au+Au, h<sup>±</sup>, 0-5%", 1273, 319, 24),
                         ("F<sub>q</sub>(M)", 1273, 356, 21),
                         ("Data", 1357, 356, 21),
                         ("Mixed events", 1417, 356, 21),
                         ("STAR Preliminary", 1275, 552, 28)]:
    annotations.append(dict(text=text, xref="paper", yref="paper", x=px_x(x), y=px_y(y),
                            xanchor="left", yanchor="middle", showarrow=False,
                            font=dict(size=size, family=FONT, color="black")))

fig.update_layout(width=W, height=H, margin=dict(l=0, r=0, t=0, b=0, pad=0),
                  paper_bgcolor="white", plot_bgcolor="white", showlegend=False,
                  font=dict(family=FONT, color="black"), annotations=annotations, **layout)

fig.write_html("out.html", config={"displayModeBar": False},
               post_script="document.body.style.margin='0';")
